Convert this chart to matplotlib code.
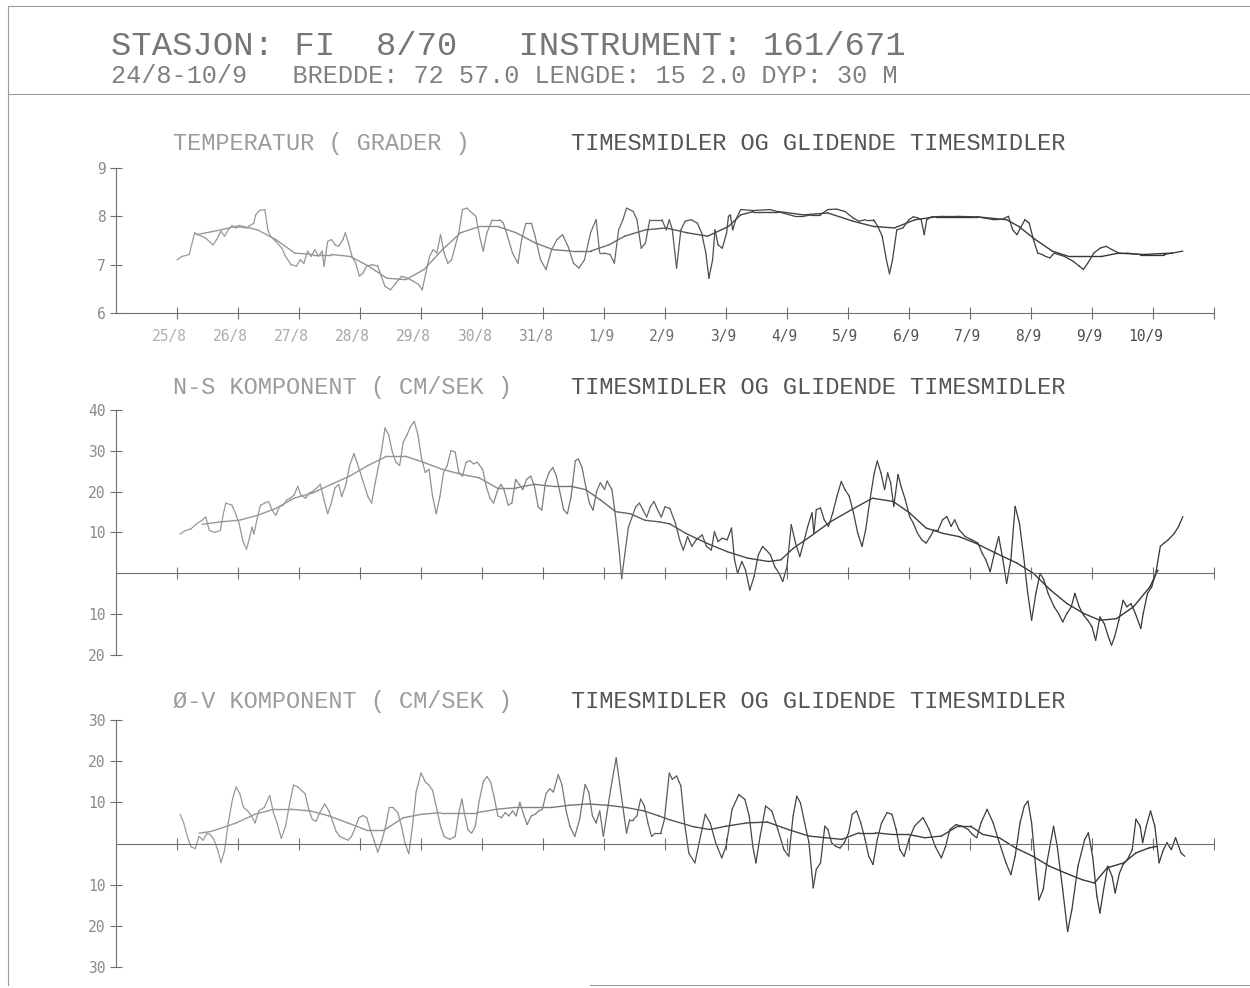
import matplotlib
matplotlib.use("Agg")
import matplotlib.pyplot as plt
import numpy as np
from matplotlib.collections import LineCollection
from matplotlib.transforms import ScaledTranslation

W, H = 1250, 988

header_1 = "STASJON: FI  8/70   INSTRUMENT: 161/671"
header_2 = "24/8-10/9   BREDDE: 72 57.0 LENGDE: 15 2.0 DYP: 30 M"
subtitle = "TIMESMIDLER OG GLIDENDE TIMESMIDLER"
panel_titles = ["TEMPERATUR ( GRADER )",
                "N-S KOMPONENT ( CM/SEK )",
                "Ø-V KOMPONENT ( CM/SEK )"]

# time axis in days after 24/8 00:00
date_labels = ["25/8", "26/8", "27/8", "28/8", "29/8", "30/8", "31/8", "1/9", "2/9",
               "3/9", "4/9", "5/9", "6/9", "7/9", "8/9", "9/9", "10/9"]
day_ticks = list(range(1, 19))

temp_ticks = [6, 7, 8, 9]
temp_labels = ["6", "7", "8", "9"]
ns_ticks = [-20, -10, 10, 20, 30, 40]
ns_labels = ["20", "10", "10", "20", "30", "40"]
ov_ticks = [-30, -20, -10, 10, 20, 30]
ov_labels = ["30", "20", "10", "10", "20", "30"]

# temperature, hourly means
temp_day = [1.00, 1.08, 1.20, 1.29, 1.35, 1.47, 1.59, 1.65, 1.72, 1.78,
            1.84, 1.90, 1.96, 2.02, 2.14, 2.26, 2.29, 2.35, 2.44, 2.49,
            2.53, 2.62, 2.72, 2.78, 2.87, 2.96, 3.02, 3.08, 3.14, 3.20,
            3.26, 3.32, 3.38, 3.41, 3.47, 3.53, 3.59, 3.65, 3.72, 3.76,
            3.81, 3.87, 3.93, 3.99, 4.05, 4.11, 4.20, 4.29, 4.35, 4.41,
            4.50, 4.59, 4.68, 4.78, 4.87, 4.96, 5.02, 5.08, 5.14, 5.20,
            5.26, 5.32, 5.38, 5.44, 5.50, 5.56, 5.62, 5.68, 5.75, 5.81,
            5.90, 5.96, 6.02, 6.08, 6.17, 6.29, 6.35, 6.41, 6.50, 6.59,
            6.65, 6.72, 6.81, 6.87, 6.96, 7.05, 7.14, 7.23, 7.32, 7.41,
            7.50, 7.59, 7.68, 7.78, 7.87, 7.93,
            8.00, 8.10, 8.17, 8.24, 8.31, 8.37, 8.48, 8.54, 8.61, 8.68,
            8.75, 8.85, 8.95, 9.02, 9.07, 9.12, 9.19, 9.26, 9.33, 9.43,
            9.53, 9.60, 9.67, 9.72, 9.78, 9.82, 9.87, 9.94, 10.01, 10.04,
            10.07, 10.11, 10.16, 10.24, 10.45, 10.72, 10.93, 11.13, 11.27, 11.40,
            11.54, 11.67, 11.81, 11.95, 12.08, 12.18, 12.29, 12.35, 12.42, 12.49,
            12.56, 12.63, 12.68, 12.73, 12.80, 12.90, 13.00, 13.07, 13.14, 13.20,
            13.25, 13.29, 13.37, 13.58, 13.78, 14.12, 14.39, 14.53, 14.63, 14.70,
            14.77, 14.84, 14.90, 14.97, 15.04, 15.11, 15.18, 15.24, 15.31, 15.38,
            15.45, 15.55, 15.69, 15.79, 15.86, 15.93, 16.03, 16.13, 16.23, 16.33,
            16.44, 16.57, 16.78, 16.98, 17.18, 17.32, 17.49]
temp_val = [7.10, 7.17, 7.21, 7.66, 7.62, 7.55, 7.41, 7.52, 7.69, 7.59,
            7.72, 7.81, 7.76, 7.78, 7.76, 7.86, 8.03, 8.12, 8.14, 7.72,
            7.59, 7.48, 7.34, 7.17, 7.00, 6.97, 7.10, 7.03, 7.28, 7.17,
            7.31, 7.17, 7.28, 6.97, 7.48, 7.52, 7.41, 7.38, 7.52, 7.66,
            7.45, 7.17, 7.03, 6.76, 6.83, 6.97, 7.00, 6.97, 6.76, 6.55,
            6.48, 6.62, 6.76, 6.72, 6.66, 6.59, 6.48, 6.83, 7.17, 7.31,
            7.24, 7.62, 7.24, 7.03, 7.10, 7.38, 7.66, 8.14, 8.17, 8.10,
            8.00, 7.59, 7.28, 7.66, 7.93, 7.93, 7.86, 7.62, 7.24, 7.03,
            7.52, 7.86, 7.86, 7.59, 7.10, 6.90, 7.31, 7.52, 7.62, 7.38,
            7.03, 6.93, 7.10, 7.66, 7.93, 7.24,
            7.24, 7.21, 7.03, 7.72, 7.93, 8.17, 8.10, 7.93, 7.34, 7.45,
            7.93, 7.93, 7.93, 7.72, 7.93, 7.72, 6.93, 7.72, 7.90, 7.93,
            7.86, 7.66, 7.24, 6.72, 7.10, 7.72, 7.41, 7.34, 7.66, 8.00,
            8.03, 7.72, 7.93, 8.14, 8.12, 8.14, 8.07, 8.00, 8.00, 8.03,
            8.03, 8.14, 8.15, 8.10, 7.97, 7.90, 7.93, 7.93, 7.93, 7.79,
            7.59, 7.10, 6.81, 7.10, 7.72, 7.76, 7.93, 7.99, 7.97, 7.93,
            7.62, 7.93, 7.99, 8.00, 8.00, 7.99, 7.93, 7.94, 8.00, 7.72,
            7.62, 7.79, 7.93, 7.86, 7.52, 7.24, 7.21, 7.17, 7.14, 7.24,
            7.21, 7.17, 7.07, 6.97, 6.90, 7.03, 7.24, 7.34, 7.38, 7.31,
            7.24, 7.24, 7.21, 7.21, 7.21, 7.24, 7.28]

# temperature, gliding means
temp_mean_day = [1.32, 1.72, 2.02, 2.32, 2.62, 2.93, 3.23, 3.53, 3.84, 4.14,
                 4.44, 4.75, 5.05, 5.35, 5.65, 5.96, 6.26, 6.56, 6.87, 7.17,
                 7.47, 7.78, 8.08, 8.34, 8.68, 9.02, 9.36, 9.70, 10.04, 10.24,
                 10.45, 10.86, 11.27, 11.67, 12.08, 12.42, 12.76, 13.10, 13.44, 14.12,
                 14.60, 14.80, 15.07, 15.35, 15.62, 15.89, 16.16, 16.44, 16.84, 17.32]
temp_mean = [7.62, 7.72, 7.81, 7.72, 7.52, 7.24, 7.21, 7.21, 7.17, 6.97,
             6.72, 6.69, 6.90, 7.31, 7.66, 7.79, 7.79, 7.66, 7.45, 7.31,
             7.28, 7.28, 7.41, 7.59, 7.72, 7.76, 7.66, 7.59, 7.79, 8.03,
             8.10, 8.10, 8.03, 8.07, 7.90, 7.79, 7.76, 7.93, 7.99, 7.99,
             7.93, 7.79, 7.52, 7.28, 7.17, 7.17, 7.17, 7.24, 7.21, 7.24]

# north-south component, hourly means (cm/s)
ns_day = [1.05, 1.14, 1.23, 1.32, 1.41, 1.47, 1.53, 1.62, 1.71, 1.76,
          1.80, 1.90, 1.96, 2.02, 2.08, 2.14, 2.19, 2.23, 2.26, 2.32,
          2.37, 2.44, 2.50, 2.56, 2.62, 2.68, 2.74, 2.80, 2.86, 2.92,
          2.98, 3.03, 3.11, 3.17, 3.23, 3.29, 3.35, 3.41, 3.47, 3.53,
          3.59, 3.65, 3.70, 3.77, 3.83, 3.90, 3.95, 4.04, 4.13, 4.19,
          4.25, 4.35, 4.41, 4.47, 4.53, 4.59, 4.65, 4.71, 4.77, 4.83,
          4.89, 4.95, 5.01, 5.07, 5.13, 5.19, 5.25, 5.31, 5.37, 5.43,
          5.49, 5.56, 5.62, 5.68, 5.74, 5.80, 5.86, 5.92, 6.01, 6.07,
          6.13, 6.19, 6.25, 6.31, 6.36, 6.43, 6.49, 6.55, 6.61, 6.67,
          6.73, 6.80, 6.86, 6.92, 6.98, 7.04, 7.10, 7.16, 7.22, 7.28,
          7.34, 7.40, 7.46, 7.53, 7.58, 7.64, 7.70, 7.76, 7.82, 7.88,
          7.94, 8.01, 8.05, 8.13, 8.19, 8.25, 8.29, 8.34, 8.40, 8.46,
          8.52, 8.58, 8.64, 8.70, 8.76, 8.82, 8.88, 8.94, 9.00, 9.08,
          9.17, 9.24, 9.30, 9.37, 9.44, 9.51, 9.61, 9.68, 9.76, 9.81,
          9.87, 9.94, 10.02, 10.09, 10.14, 10.19, 10.26, 10.32, 10.39, 10.46,
          10.53, 10.60, 10.66, 10.73, 10.80, 10.87, 10.93, 11.00, 11.07, 11.14,
          11.21, 11.27, 11.34, 11.41, 11.44, 11.48, 11.55, 11.61, 11.68, 11.75,
          11.82, 11.89, 11.95, 12.02, 12.09, 12.16, 12.23, 12.29, 12.36, 12.43,
          12.48, 12.54, 12.60, 12.65, 12.70, 12.75, 12.82, 12.87, 12.94, 13.01,
          13.07, 13.14, 13.21, 13.28, 13.35, 13.41, 13.48, 13.55, 13.62, 13.69,
          13.75, 13.82, 13.92, 14.03, 14.13, 14.20, 14.26, 14.33, 14.40, 14.47,
          14.54, 14.60, 14.67, 14.74, 14.81, 14.88, 14.94, 15.01, 15.08, 15.15,
          15.21, 15.28, 15.38, 15.45, 15.52, 15.59, 15.66, 15.72, 15.79, 15.86,
          15.93, 16.00, 16.06, 16.13, 16.20, 16.27, 16.32, 16.37, 16.44, 16.51,
          16.57, 16.64, 16.71, 16.80, 16.84, 16.91, 16.98, 17.05, 17.12, 17.18,
          17.25, 17.35, 17.42, 17.49]
ns_val = [9.6, 10.5, 10.9, 12.1, 13.0, 13.8, 10.5, 10.0, 10.5, 14.6,
          17.2, 16.7, 14.6, 12.1, 7.9, 5.9, 8.8, 11.3, 9.6, 13.8,
          16.7, 17.2, 17.6, 15.5, 14.2, 16.3, 16.7, 18.0, 18.4, 19.2,
          21.3, 19.2, 18.4, 19.7, 20.1, 20.9, 21.8, 18.0, 14.6, 17.2,
          20.9, 21.8, 18.8, 21.8, 26.4, 29.3, 27.2, 23.0, 18.8, 17.2,
          22.2, 29.7, 35.6, 33.9, 29.7, 27.2, 26.4, 32.2, 33.9, 36.0,
          37.2, 33.9, 28.0, 24.7, 25.5, 18.8, 14.6, 18.8, 24.7, 26.4,
          30.1, 29.7, 24.7, 23.8, 27.2, 27.6, 26.8, 27.2, 25.5, 21.3,
          18.4, 17.2, 20.1, 21.8, 20.5, 16.7, 17.2, 23.0, 21.8, 20.5,
          23.0, 23.8, 21.3, 16.3, 15.5, 22.2, 24.7, 25.9, 23.8, 19.7,
          15.5, 14.6, 18.8, 27.6, 28.0, 25.9, 21.3, 17.2, 15.5, 20.1,
          22.2, 20.5, 22.6, 20.5, 13.8, 5.4, -1.3, 4.6, 11.3, 13.8,
          16.3, 17.2, 15.5, 13.8, 16.3, 17.6, 15.5, 13.8, 16.3, 15.9,
          12.3, 8.2, 5.7, 9.0, 6.6, 8.2, 9.4, 6.6, 5.7, 10.2,
          7.8, 8.6, 8.2, 11.1, 3.3, 0.0, 2.9, 0.8, -4.1, -0.8,
          4.5, 6.6, 5.7, 4.5, 1.6, 0.0, -2.0, 1.6, 11.9, 7.4,
          4.1, 7.4, 11.5, 14.8, 9.8, 15.6, 16.0, 13.1, 11.5, 14.8,
          18.9, 22.5, 20.5, 18.9, 14.8, 9.8, 6.6, 10.7, 18.0, 24.6,
          27.5, 24.6, 20.5, 24.6, 22.1, 16.4, 24.2, 21.3, 18.0, 13.9,
          12.3, 9.8, 8.2, 7.4, 9.0, 10.7, 10.7, 13.1, 13.9, 11.5,
          13.1, 10.7, 9.0, 8.2, 7.4, 4.9, 3.3, 0.4, 4.9, 9.0,
          3.3, -2.5, 3.3, 16.4, 12.3, 4.1, -4.1, -11.5, -4.9, 0.0,
          -1.6, -4.9, -8.2, -9.8, -11.9, -9.8, -8.2, -4.9, -8.2, -10.2,
          -11.5, -13.1, -16.4, -10.7, -12.3, -15.6, -17.6, -15.6, -11.5, -6.6,
          -8.2, -7.4, -9.8, -13.5, -9.8, -4.9, -3.3, 0.4, 6.6, 7.4,
          8.2, 9.8, 11.5, 13.9]

# north-south component, gliding means
ns_mean_day = [1.41, 1.71, 2.02, 2.32, 2.62, 2.92, 3.23, 3.53, 3.83, 4.13,
               4.44, 4.74, 5.04, 5.34, 5.65, 5.95, 6.25, 6.55, 6.86, 7.16,
               7.46, 7.70, 7.94, 8.19, 8.43, 8.67, 8.91, 9.08, 9.34, 9.68,
               10.02, 10.36, 10.70, 10.90, 11.10, 11.38, 11.72, 12.06, 12.40, 12.74,
               13.01, 13.28, 13.55, 13.82, 14.09, 14.43, 14.77, 15.04, 15.32, 15.59,
               15.86, 16.13, 16.40, 16.68, 16.95, 17.08]
ns_mean = [12.0, 12.6, 13.0, 14.2, 15.9, 18.4, 19.7, 21.8, 23.8, 26.4,
           28.7, 28.7, 27.2, 25.5, 24.3, 23.4, 20.9, 20.9, 21.8, 21.3,
           21.3, 20.5, 18.0, 15.1, 14.6, 13.0, 12.6, 12.1, 9.8, 7.4,
           5.3, 3.7, 2.9, 3.3, 6.1, 9.0, 12.7, 15.6, 18.4, 17.6,
           14.8, 11.1, 9.8, 9.0, 7.4, 4.9, 2.5, 0.0, -4.1, -7.4,
           -9.8, -11.5, -11.1, -8.2, -3.3, 0.8]

# east-west component, hourly means (cm/s)
ov_day = [1.05, 1.11, 1.17, 1.23, 1.30, 1.36, 1.43, 1.49, 1.55, 1.61,
          1.67, 1.72, 1.78, 1.84, 1.91, 1.97, 2.03, 2.09, 2.16, 2.22,
          2.28, 2.34, 2.43, 2.52, 2.58, 2.64, 2.71, 2.78, 2.85, 2.91,
          2.98, 3.04, 3.10, 3.16, 3.22, 3.28, 3.34, 3.42, 3.49, 3.55,
          3.61, 3.67, 3.74, 3.80, 3.86, 3.92, 3.98, 4.05, 4.11, 4.17,
          4.23, 4.29, 4.36, 4.42, 4.48, 4.54, 4.62, 4.68, 4.74, 4.80,
          4.86, 4.92, 5.00, 5.07, 5.13, 5.19, 5.26, 5.32, 5.38, 5.47,
          5.56, 5.62, 5.67, 5.71, 5.77, 5.83, 5.89, 5.95, 6.02, 6.08,
          6.14, 6.20, 6.26, 6.32, 6.38, 6.44, 6.50, 6.56, 6.62, 6.68,
          6.74, 6.81, 6.87, 6.93, 6.99, 7.05, 7.11, 7.17, 7.25, 7.31,
          7.38, 7.44, 7.52, 7.60, 7.69, 7.75, 7.81, 7.87, 7.93, 7.99,
          8.05, 8.11, 8.20, 8.26, 8.33, 8.37, 8.42, 8.48, 8.54, 8.60,
          8.66, 8.72, 8.78, 8.84, 8.93, 8.99, 9.07,
          9.12, 9.19, 9.26, 9.32, 9.39, 9.49, 9.56, 9.66, 9.74, 9.83,
          9.93, 10.00, 10.10, 10.21, 10.31, 10.38, 10.44, 10.49, 10.56, 10.65,
          10.75, 10.85, 10.95, 11.03, 11.10, 11.16, 11.22, 11.29, 11.36, 11.43,
          11.48, 11.55, 11.62, 11.67, 11.73, 11.80, 11.87, 11.94, 12.01, 12.07,
          12.14, 12.21, 12.28, 12.34, 12.41, 12.48, 12.55, 12.64, 12.72, 12.79,
          12.85, 12.92, 13.00, 13.09, 13.23, 13.33, 13.43, 13.53, 13.60, 13.67,
          13.77, 13.87, 13.97, 14.04, 14.11, 14.18, 14.28, 14.38, 14.48, 14.59,
          14.67, 14.74, 14.82, 14.89, 14.95, 15.01, 15.08, 15.13, 15.20, 15.26,
          15.37, 15.43, 15.52, 15.60, 15.67, 15.77, 15.88, 15.94, 16.01, 16.08,
          16.13, 16.19, 16.26, 16.33, 16.38, 16.45, 16.51, 16.58, 16.66, 16.72,
          16.79, 16.83, 16.89, 16.96, 17.03, 17.10, 17.17, 17.23, 17.30, 17.37,
          17.46, 17.52]
ov_val = [7.1, 5.0, 1.7, -0.8, -1.25, 1.7, 0.8, 2.5, 2.1, 0.8,
          -1.7, -4.6, -1.7, 5.0, 10.8, 13.75, 12.1, 8.75, 7.9, 6.7,
          5.0, 7.9, 8.75, 11.7, 7.5, 5.0, 1.25, 4.2, 10.0, 14.2,
          13.75, 12.9, 12.1, 8.3, 5.8, 5.4, 7.5, 9.6, 7.9, 5.4,
          2.9, 1.7, 1.25, 0.8, 1.7, 3.75, 6.25, 6.8, 6.25, 3.3,
          0.8, -2.1, 0.8, 4.2, 8.75, 8.75, 7.5, 4.2, 0.0, -2.5,
          4.2, 12.5, 17.1, 15.0, 14.2, 12.9, 8.3, 4.2, 1.7, 1.0,
          1.7, 7.5, 10.8, 7.5, 3.3, 2.5, 4.2, 10.0, 15.0, 16.25,
          15.0, 11.25, 6.7, 6.25, 7.5, 6.7, 7.9, 6.7, 10.0, 7.1,
          4.6, 6.7, 7.1, 7.9, 8.3, 12.1, 13.3, 12.5, 16.7, 14.3,
          7.9, 4.2, 1.7, 5.8, 14.3, 12.5, 6.7, 5.0, 7.9, 1.7,
          7.5, 13.3, 20.8, 14.2, 6.7, 2.5, 5.8, 5.8, 6.7, 10.8,
          9.2, 5.0, 1.7, 2.5, 2.5, 5.8, 17.1,
          15.6, 16.4, 14.0, 5.0, -2.3, -4.7, 0.2, 7.1, 5.0, 0.2,
          -3.5, -0.7, 8.3, 11.9, 10.7, 6.7, -0.7, -4.7, 1.8, 9.1,
          7.9, 3.4, -1.5, -3.1, 6.7, 11.5, 9.9, 5.0, 0.2, -10.8,
          -6.3, -4.7, 4.2, 3.4, 0.2, -0.7, -1.1, 0.2, 2.6, 7.1,
          7.9, 5.0, 1.0, -3.1, -5.1, 1.0, 5.0, 7.5, 7.1, 3.4,
          -1.5, -3.1, 1.0, 4.2, 6.3, 3.4, -0.7, -3.5, -0.7, 3.4,
          4.6, 4.2, 3.4, 2.2, 1.4, 5.0, 8.3, 5.0, 0.2, -4.7,
          -7.6, -3.1, 5.0, 9.1, 10.3, 5.0, -6.3, -13.7, -11.2, -4.7,
          4.2, -0.7, -11.2, -21.4, -16.1, -5.5, 1.0, 2.6, -3.1, -12.8,
          -16.9, -11.2, -5.5, -8.0, -12.0, -7.2, -5.1, -3.9, -1.5, 5.9,
          4.2, 0.2, 4.2, 7.9, 4.2, -4.7, -1.5, 0.2, -1.5, 1.4,
          -2.3, -3.1]

# east-west component, gliding means
ov_mean_day = [1.36, 1.55, 1.73, 1.97, 2.28, 2.58, 2.88, 3.19, 3.49, 3.80,
               4.10, 4.40, 4.71, 5.01, 5.32, 5.62, 5.92, 6.23, 6.53, 6.84,
               7.14, 7.44, 7.75, 8.05, 8.36, 8.66, 8.90, 9.07, 9.46, 9.73,
               10.00, 10.34, 10.68, 11.02, 11.36, 11.63, 11.90, 12.18, 12.45, 12.72,
               12.99, 13.26, 13.53, 13.80, 14.01, 14.21, 14.48, 14.75, 15.03, 15.30,
               15.57, 15.84, 16.04, 16.25, 16.52, 16.72, 16.93, 17.06]
ov_mean = [2.5, 2.9, 3.75, 5.0, 7.1, 8.3, 8.3, 7.9, 6.7, 5.0,
           3.3, 3.3, 6.25, 7.1, 7.5, 7.5, 7.5, 8.3, 8.75, 8.75,
           8.75, 9.3, 9.6, 9.3, 8.75, 7.9, 6.7, 5.8, 4.1, 3.4,
           4.2, 5.0, 5.2, 3.4, 1.8, 1.4, 1.0, 2.6, 2.6, 2.2,
           2.2, 1.4, 1.8, 4.2, 4.2, 2.2, 1.4, -1.1, -3.1, -5.5,
           -7.2, -8.8, -9.6, -5.9, -4.7, -2.3, -1.1, -0.7]


def ink(d):
    # the plotter ink is faint on the early days and darker later on
    return np.interp(d, [0, 6, 10, 18], [0.62, 0.56, 0.28, 0.2])


def trace(ax, days, vals, lw):
    d = np.asarray(days, float)
    v = np.asarray(vals, float)
    pts = np.column_stack([d, v])
    segs = np.stack([pts[:-1], pts[1:]], axis=1)
    g = ink(0.5 * (d[:-1] + d[1:]))
    lc = LineCollection(segs, colors=np.column_stack([g, g, g]), linewidths=lw,
                        capstyle="round", joinstyle="round")
    ax.add_collection(lc)


X0, X1 = 116, 1214
AXIS_C = "#707070"


def panel(top, bottom, ylim, base, ticks, labels):
    ax = fig.add_axes([X0 / W, 1 - bottom / H, (X1 - X0) / W, (bottom - top) / H])
    ax.set_xlim(0, 18)
    ax.set_ylim(*ylim)
    ax.patch.set_visible(False)
    ax.spines[["top", "right"]].set_visible(False)
    ax.spines["bottom"].set_position(("data", base))
    for s in ("left", "bottom"):
        ax.spines[s].set_color(AXIS_C)
        ax.spines[s].set_linewidth(0.8)
    ax.set_xticks(day_ticks)
    ax.set_xticklabels([])
    ax.set_yticks(ticks, labels, fontfamily="DejaVu Sans Mono")
    ax.tick_params(direction="inout", length=9, width=0.8, color=AXIS_C)
    ax.tick_params(axis="y", pad=3, labelsize=10.5, labelcolor="#8a8a8a")
    return ax


fig = plt.figure(figsize=(W / 100, H / 100), dpi=100)
fig.patch.set_facecolor("white")

page = fig.add_axes([0, 0, 1, 1])
page.set_xlim(0, W)
page.set_ylim(H, 0)
page.axis("off")

# page frame
border = dict(color="#9a9a9a", lw=0.8)
page.plot([8, W], [6, 6], **border)
page.plot([8, W], [94, 94], **border)
page.plot([8, 8], [6, 985], **border)
page.plot([590, W], [985, 985], **border)

page.text(111, 55, header_1, fontfamily="Liberation Mono", fontsize=24.4,
          color="#767676", va="baseline")
page.text(111, 83, header_2, fontfamily="Liberation Mono", fontsize=18.2,
          color="#808080", va="baseline")

for title, y in zip(panel_titles, [150, 394, 708]):
    page.text(173, y, title, fontfamily="Liberation Mono", fontsize=17,
              color="#9c9c9c", va="baseline")
    page.text(571, y, subtitle, fontfamily="Liberation Mono", fontsize=17,
              color="#555555", va="baseline")

ax1 = panel(168, 313, (6, 9), 6, temp_ticks, temp_labels)
ax2 = panel(410, 655, (-20, 40), 0, ns_ticks, ns_labels)
ax3 = panel(720, 967, (-30, 30), 0, ov_ticks, ov_labels)

ax1.set_xticks(day_ticks, date_labels + [""], fontfamily="DejaVu Sans Mono")
ax1.tick_params(axis="x", pad=7, labelsize=10.5)
shift = ScaledTranslation(10 / 100, 0, fig.dpi_scale_trans)
for lab, d in zip(ax1.get_xticklabels(), day_ticks):
    lab.set_horizontalalignment("right")
    lab.set_transform(lab.get_transform() + shift)
    g = float(ink(d)) + 0.08
    lab.set_color((g, g, g))

trace(ax1, temp_day, temp_val, 0.9)
trace(ax1, temp_mean_day, temp_mean, 1.0)
trace(ax2, ns_day, ns_val, 0.9)
trace(ax2, ns_mean_day, ns_mean, 1.0)
trace(ax3, ov_day, ov_val, 0.9)
trace(ax3, ov_mean_day, ov_mean, 1.0)

fig.savefig("out.png", dpi=100, facecolor="white")
